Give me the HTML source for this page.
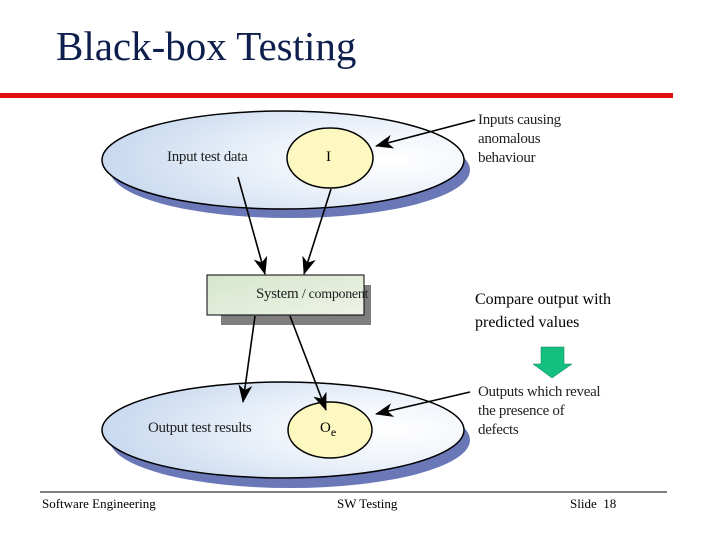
<!DOCTYPE html>
<html><head><style>
body{margin:0;width:720px;height:540px;background:#fff;overflow:hidden;position:relative;font-family:"Liberation Serif",serif}
.t{position:absolute;white-space:nowrap}
.d{letter-spacing:-0.3px}
</style></head><body>
<div class="t" style="left:56px;top:22px;font-size:41px;color:#0f1f4d">Black-box Testing</div>
<svg width="720" height="540" style="position:absolute;left:0;top:0">
<defs>
<radialGradient id="g" cx="0.8" cy="0.5" r="0.85"><stop offset="0" stop-color="#ffffff"/><stop offset="0.4" stop-color="#eef3fa"/><stop offset="1" stop-color="#c4d6ee"/></radialGradient>
<linearGradient id="b" x1="0" y1="0" x2="1" y2="1"><stop offset="0" stop-color="#d6e6cc"/><stop offset="1" stop-color="#eef3e6"/></linearGradient>
<marker id="a" markerWidth="18" markerHeight="14" refX="17" refY="7" orient="auto" markerUnits="userSpaceOnUse"><path d="M0,0 L18,7 L0,14 L5,7Z" fill="#000"/></marker>
</defs>
<rect x="0" y="93" width="673" height="5" fill="#e01010"/>
<ellipse cx="290" cy="170" rx="180" ry="48" fill="#6a78b8"/>
<ellipse cx="283" cy="160" rx="181" ry="49" fill="url(#g)" stroke="#000" stroke-width="1.5"/>
<ellipse cx="330" cy="158" rx="43" ry="30" fill="#fcf8c0" stroke="#000" stroke-width="1.5"/>
<ellipse cx="290" cy="440" rx="180" ry="48" fill="#6a78b8"/>
<ellipse cx="283" cy="430" rx="181" ry="48" fill="url(#g)" stroke="#000" stroke-width="1.5"/>
<ellipse cx="330" cy="430" rx="42" ry="28" fill="#fcf8c0" stroke="#000" stroke-width="1.5"/>
<rect x="221" y="285" width="150" height="40" fill="#7f7f7f"/>
<rect x="207" y="275" width="157" height="40" fill="url(#b)" stroke="#000" stroke-width="1"/>
<g stroke="#000" stroke-width="1.6" fill="none" marker-end="url(#a)">
<line x1="238" y1="177" x2="265" y2="274"/>
<line x1="331" y1="189" x2="304" y2="274"/>
<line x1="255" y1="316" x2="243" y2="402"/>
<line x1="290" y1="316" x2="326" y2="410"/>
<line x1="475" y1="120" x2="376" y2="146"/>
<line x1="470" y1="392" x2="376" y2="414"/>
</g>
<path d="M541,347 H564 V364 H572 L552,378 L533,364 H541Z" fill="#14c080" stroke="#0a7a50" stroke-width="0.5"/>
<line x1="40" y1="492" x2="667" y2="492" stroke="#000" stroke-width="1"/>
</svg>
<div class="t d" style="left:167px;top:149px;font-size:15px;color:#222">Input test data</div>
<div class="t" style="left:326px;top:149px;font-size:15px">I</div>
<div class="t d" style="left:478px;top:111px;font-size:15px;line-height:19px;color:#222">Inputs causing<br>anomalous<br>behaviour</div>
<div class="t d" style="left:256px;top:286px;font-size:15px;color:#222">System <span style="font-size:14px">/ component</span></div>
<div class="t" style="left:475px;top:288px;font-size:16px;line-height:23px">Compare output with<br>predicted values</div>
<div class="t d" style="left:148px;top:420px;font-size:15px;color:#222">Output test results</div>
<div class="t" style="left:320px;top:420px;font-size:15px">O<sub style="font-size:12px">e</sub></div>
<div class="t d" style="left:478px;top:383px;font-size:15px;line-height:19px;color:#222">Outputs which reveal<br>the presence of<br>defects</div>
<div class="t" style="left:42px;top:496px;font-size:13px">Software Engineering</div>
<div class="t" style="left:337px;top:496px;font-size:13px">SW Testing</div>
<div class="t" style="left:570px;top:496px;font-size:13px">Slide&nbsp; 18</div>
</body></html>
